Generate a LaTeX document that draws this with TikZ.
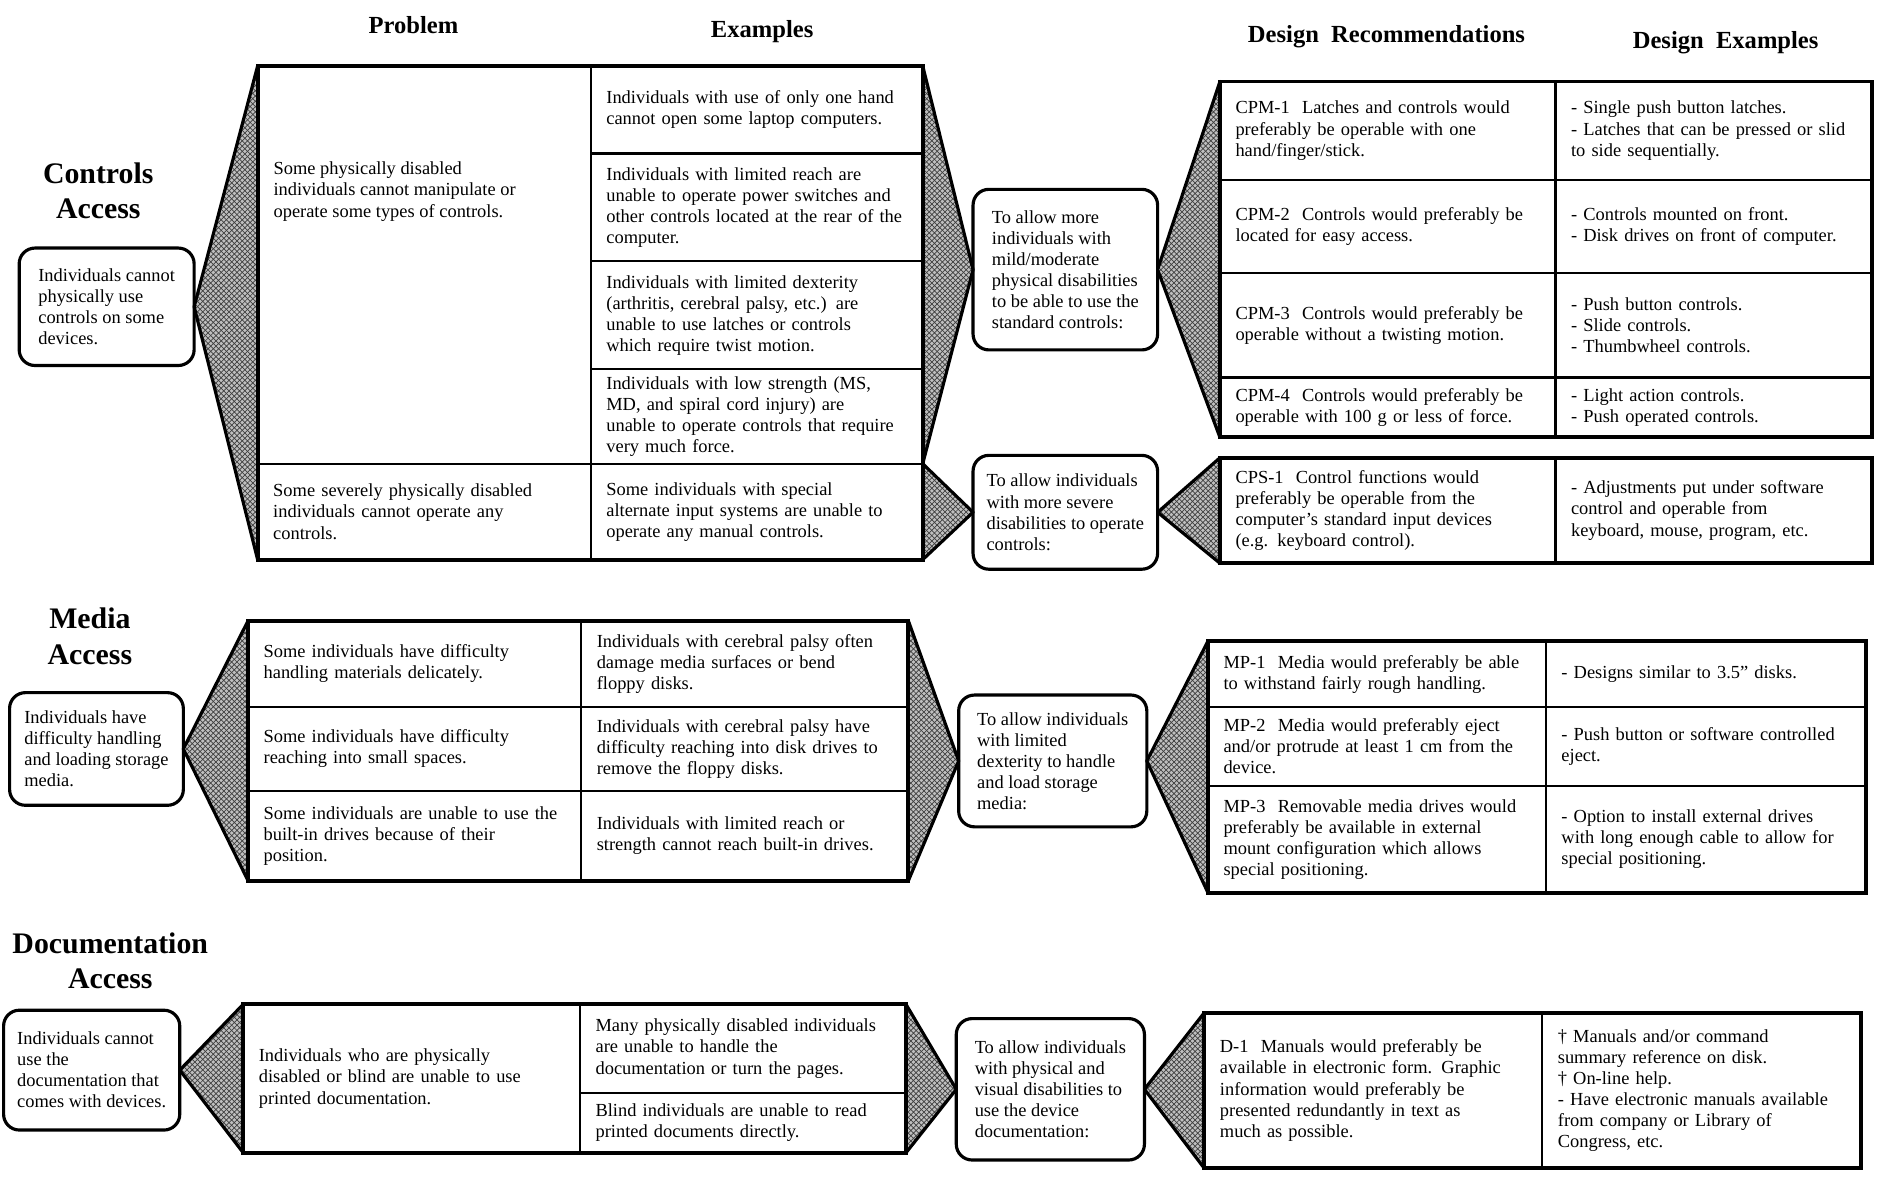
\documentclass[tikz,border=0pt]{standalone}
\usepackage{fontspec}
\setmainfont{Liberation Serif}
\usetikzlibrary{patterns}

\begin{document}
\begin{tikzpicture}[x=0.024cm, y=-0.024cm,
    cellbase/.style={rectangle, draw, line width=1.3pt, outer sep=0pt,
                     anchor=north west, inner xsep=0pt, inner ysep=2pt,
                     align=left, font=\fontsize{10.5}{12}\selectfont},
    cell/.code 2 args={\pgfmathsetlengthmacro\cellw{#1*0.024cm}%
                       \pgfmathsetlengthmacro\cellh{#2*0.024cm}%
                       \pgfmathsetlengthmacro\celltw{(#1-26)*0.024cm}%
                       \tikzset{cellbase, minimum width=\cellw,
                                minimum height=\cellh, text width=\celltw}},
    goalbase/.style={rectangle, draw, line width=1.8pt, rounded corners=9pt,
                     outer sep=0pt, anchor=north west, inner sep=2pt,
                     align=left, font=\fontsize{10.5}{12}\selectfont},
    goal/.code 2 args={\pgfmathsetlengthmacro\cellw{#1*0.024cm}%
                       \pgfmathsetlengthmacro\cellh{#2*0.024cm}%
                       \tikzset{goalbase, minimum width=\cellw, minimum height=\cellh}},
    txt/.style={anchor=north west, inner sep=0pt, align=left,
                font=\fontsize{10.5}{12}\selectfont},
    colhead/.style={font=\fontsize{14}{16}\selectfont\bfseries},
    secthead/.style={align=center, font=\fontsize{17}{20}\selectfont\bfseries},
    wedge/.style={draw, line width=1.8pt, line join=round,
                  preaction={fill=black!25}, pattern=crosshatch,
                  pattern color=black!75},
    frame/.style={draw, line width=2.2pt}
]
\useasboundingbox (0,0) rectangle (1568,983);

% column headings
\node[colhead] (hprob) at (345,21)  {Problem};
\node[colhead] (hexam) at (636,26)  {Examples};
\node[colhead] (hrec)  at (1157,31) {Design\ \ Recommendations};
\node[colhead] (hdex)  at (1440,36) {Design\ \ Examples};

% ---------------- Controls Access ----------------
\node[secthead] (sctrl) at (82,159) {Controls\\Access};
\node[goal={146}{98}] (ca) at (16,207)
    {Individuals cannot\\physically use\\controls on some\\devices.};

\node[cell={278}{332}] (p1) at (215,55) {};
\node[txt] (p1txt) at (228,135)
    {Some physically disabled\\individuals cannot manipulate or\\operate some types of controls.};
\node[cell={278}{80}] (p2) at (p1.south west)
    {Some severely physically disabled\\individuals cannot operate any\\controls.};

\node[cell={277}{73}] (e1) at (p1.north east)
    {Individuals with use of only one hand\\cannot open some laptop computers.};
\node[cell={277}{90}] (e2) at (e1.south west)
    {Individuals with limited reach are\\unable to operate power switches and\\other controls located at the rear of the\\computer.};
\node[cell={277}{90}] (e3) at (e2.south west)
    {Individuals with limited dexterity\\(arthritis, cerebral palsy, etc.) are\\unable to use latches or controls\\which require twist motion.};
\node[cell={277}{79}] (e4) at (e3.south west)
    {Individuals with low strength (MS,\\MD, and spiral cord injury) are\\unable to operate controls that require\\very much force.};
\node[cell={277}{80}] (e5) at (e4.south west)
    {Some individuals with special\\alternate input systems are unable to\\operate any manual controls.};

\node[goal={154}{134}] (m1) at (812,158)
    {To allow more\\individuals with\\mild/moderate\\physical disabilities\\to be able to use the\\standard controls:};
\node[goal={154}{95}] (m2) at (812,380)
    {To allow individuals\\with more severe\\disabilities to operate\\controls:};

\node[cell={280}{82}] (r1) at (1018,68)
    {CPM-1\ \ Latches and controls would\\preferably be operable with one\\hand/finger/stick.};
\node[cell={280}{78}] (r2) at (r1.south west)
    {CPM-2\ \ Controls would preferably be\\located for easy access.};
\node[cell={280}{87}] (r3) at (r2.south west)
    {CPM-3\ \ Controls would preferably be\\operable without a twisting motion.};
\node[cell={280}{50}] (r4) at (r3.south west)
    {CPM-4\ \ Controls would preferably be\\operable with 100 g or less of force.};
\node[cell={264}{82}] (d1) at (r1.north east)
    {- Single push button latches.\\- Latches that can be pressed or slid\\to side sequentially.};
\node[cell={264}{78}] (d2) at (d1.south west)
    {- Controls mounted on front.\\- Disk drives on front of computer.};
\node[cell={264}{87}] (d3) at (d2.south west)
    {- Push button controls.\\- Slide controls.\\- Thumbwheel controls.};
\node[cell={264}{50}] (d4) at (d3.south west)
    {- Light action controls.\\- Push operated controls.};

\node[cell={280}{88}] (r5) at (1018,382)
    {CPS-1\ \ Control functions would\\preferably be operable from the\\computer's standard input devices\\(e.g. keyboard control).};
\node[cell={264}{88}] (d5) at (r5.north east)
    {- Adjustments put under software\\control and operable from\\keyboard, mouse, program, etc.};

\path[wedge] (ca.east) -- (p1.north west) -- (p2.south west) -- cycle;
\path[wedge] (m1.west) -- (e1.north east) -- (e4.south east) -- cycle;
\path[wedge] (m2.west) -- (e5.north east) -- (e5.south east) -- cycle;
\path[wedge] (m1.east) -- (r1.north west) -- (r4.south west) -- cycle;
\path[wedge] (m2.east) -- (r5.north west) -- (r5.south west) -- cycle;
\path[frame] (p1.north west) rectangle (e5.south east);
\path[frame] (r1.north west) rectangle (d4.south east);
\path[frame] (r5.north west) rectangle (d5.south east);

% ---------------- Media Access ----------------
\node[secthead] (smedia) at (75,531) {Media\\Access};
\node[goal={145}{94}] (ma) at (8,578)
    {Individuals have\\difficulty handling\\and loading storage\\media.};

\node[cell={278}{72}] (q1) at (207,518)
    {Some individuals have difficulty\\handling materials delicately.};
\node[cell={278}{70}] (q2) at (q1.south west)
    {Some individuals have difficulty\\reaching into small spaces.};
\node[cell={278}{75}] (q3) at (q2.south west)
    {Some individuals are unable to use the\\built-in drives because of their\\position.};
\node[cell={273}{72}] (f1) at (q1.north east)
    {Individuals with cerebral palsy often\\damage media surfaces or bend\\floppy disks.};
\node[cell={273}{70}] (f2) at (f1.south west)
    {Individuals with cerebral palsy have\\difficulty reaching into disk drives to\\remove the floppy disks.};
\node[cell={273}{75}] (f3) at (f2.south west)
    {Individuals with limited reach or\\strength cannot reach built-in drives.};

\node[goal={157}{110}] (mm) at (800,580)
    {To allow individuals\\with limited\\dexterity to handle\\and load storage\\media:};

\node[cell={282}{55}] (s1) at (1008,535)
    {MP-1\ \ Media would preferably be able\\to withstand fairly rough handling.};
\node[cell={282}{66}] (s2) at (s1.south west)
    {MP-2\ \ Media would preferably eject\\and/or protrude at least 1 cm from the\\device.};
\node[cell={282}{89}] (s3) at (s2.south west)
    {MP-3\ \ Removable media drives would\\preferably be available in external\\mount configuration which allows\\special positioning.};
\node[cell={267}{55}] (g1) at (s1.north east)
    {- Designs similar to 3.5'' disks.};
\node[cell={267}{66}] (g2) at (g1.south west)
    {- Push button or software controlled\\eject.};
\node[cell={267}{89}] (g3) at (g2.south west)
    {- Option to install external drives\\with long enough cable to allow for\\special positioning.};

\path[wedge] (ma.east) -- (q1.north west) -- (q3.south west) -- cycle;
\path[wedge] (mm.west) -- (f1.north east) -- (f3.south east) -- cycle;
\path[wedge] (mm.east) -- (s1.north west) -- (s3.south west) -- cycle;
\path[frame] (q1.north west) rectangle (f3.south east);
\path[frame] (s1.north west) rectangle (g3.south east);

% ---------------- Documentation Access ----------------
\node[secthead] (sdoc) at (92,802) {Documentation\\Access};
\node[goal={147}{100}] (da) at (3,843)
    {Individuals cannot\\use the\\documentation that\\comes with devices.};

\node[cell={281}{124}] (u1) at (203,838)
    {Individuals who are physically\\disabled or blind are unable to use\\printed documentation.};
\node[cell={272}{74}] (v1) at (u1.north east)
    {Many physically disabled individuals\\are unable to handle the\\documentation or turn the pages.};
\node[cell={272}{50}] (v2) at (v1.south west)
    {Blind individuals are unable to read\\printed documents directly.};

\node[goal={157}{118}] (dm) at (798,850)
    {To allow individuals\\with physical and\\visual disabilities to\\use the device\\documentation:};

\node[cell={282}{130}] (t1) at (1005,845)
    {D-1\ \ Manuals would preferably be\\available in electronic form. Graphic\\information would preferably be\\presented redundantly in text as\\much as possible.};
\node[cell={266}{130}] (t2) at (t1.north east)
    {† Manuals and/or command\\summary reference on disk.\\† On-line help.\\- Have electronic manuals available\\from company or Library of\\Congress, etc.};

\path[wedge] (da.east) -- (u1.north west) -- (u1.south west) -- cycle;
\path[wedge] (dm.west) -- (v1.north east) -- (v2.south east) -- cycle;
\path[wedge] (dm.east) -- (t1.north west) -- (t1.south west) -- cycle;
\path[frame] (u1.north west) rectangle (v2.south east);
\path[frame] (t1.north west) rectangle (t2.south east);
\end{tikzpicture}
\end{document}
